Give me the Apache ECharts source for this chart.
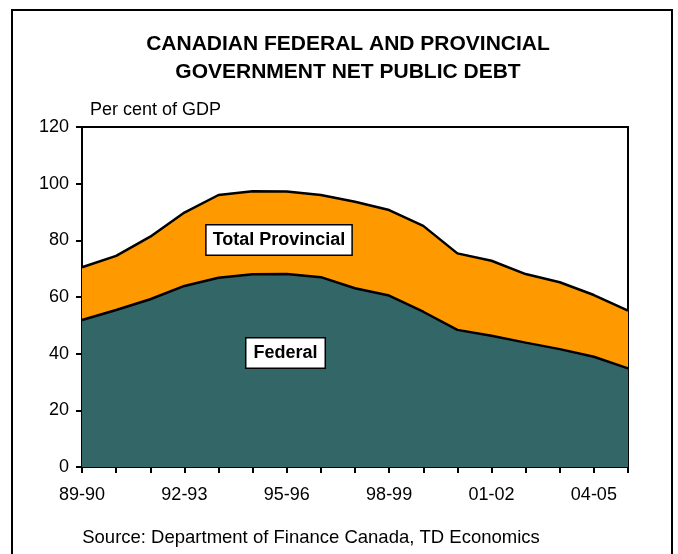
<!DOCTYPE html>
<html><head><meta charset="utf-8">
<script src="https://cdn.jsdelivr.net/npm/echarts@6/dist/echarts.min.js"></script>
<style>html,body{margin:0;padding:0;background:#fff}#c{width:678px;height:554px}</style>
</head><body><div id="c"></div>
<script>
const categories = ['89-90','90-91','91-92','92-93','93-94','94-95','95-96','96-97','97-98','98-99','99-00','00-01','01-02','02-03','03-04','04-05','05-06'];
const federal = [51.9,55.4,59.2,63.9,66.8,68.0,68.1,67.0,63.1,60.5,54.8,48.4,46.3,43.9,41.6,38.9,34.8];
const totalDebt = [70.5,74.5,81.3,89.8,96.0,97.3,97.2,96.0,93.6,90.7,85.1,75.4,72.8,68.1,65.2,60.7,55.2];
const provincial = totalDebt.map((t,i)=>+(t-federal[i]).toFixed(1));
const yTicks = [0,20,40,60,80,100,120];

const font = 'Liberation Sans, Arial, sans-serif';
const chart = echarts.init(document.getElementById('c'));
chart.setOption({
  animation:false,
  backgroundColor:'#fff',
  title:{
    text:'CANADIAN FEDERAL AND PROVINCIAL\nGOVERNMENT NET PUBLIC DEBT',
    left:343, top:25, textAlign:'center',
    textStyle:{fontFamily:font,fontSize:21,fontWeight:'bold',color:'#000',lineHeight:28}
  },
  grid:{left:82,top:127,right:50,bottom:87,show:true,borderColor:'#000',borderWidth:2,backgroundColor:'transparent'},
  xAxis:{
    type:'category', data:categories, boundaryGap:false,
    axisLine:{lineStyle:{color:'#000',width:2}},
    axisTick:{interval:0,length:6,lineStyle:{color:'#000',width:2}},
    axisLabel:{interval:2,color:'#000',fontFamily:font,fontSize:18,margin:19},
    splitLine:{show:false}
  },
  yAxis:{
    type:'value', min:yTicks[0], max:yTicks[yTicks.length-1], interval:20,
    axisLine:{show:true,lineStyle:{color:'#000',width:2}},
    axisTick:{show:true,length:6,lineStyle:{color:'#000',width:2}},
    axisLabel:{color:'#000',fontFamily:font,fontSize:18,margin:13},
    splitLine:{show:false}
  },
  series:[
    {name:'Federal',type:'line',stack:'t',data:federal,symbol:'none',
     lineStyle:{color:'#000',width:2.5},areaStyle:{color:'#336666',opacity:1},z:3},
    {name:'Total Provincial',type:'line',stack:'t',data:provincial,symbol:'none',
     lineStyle:{color:'#000',width:2.5},areaStyle:{color:'#FF9900',opacity:1},z:2}
  ],
  graphic:[
    {type:'rect',shape:{x:12,y:10,width:660,height:560},style:{fill:'none',stroke:'#000',lineWidth:2},z:-1},
    {type:'text',x:90,y:110,style:{text:'Per cent of GDP',font:'18px '+font,fill:'#000',align:'left',verticalAlign:'middle'}},
    {type:'text',x:279,y:240,z:10,style:{text:'Total Provincial',font:'bold 18px '+font,fill:'#000',
      align:'center',verticalAlign:'middle',backgroundColor:'#fff',borderColor:'#000',borderWidth:1.5,padding:[6,6,5,6]}},
    {type:'text',x:285.5,y:353,z:10,style:{text:'Federal',font:'bold 18px '+font,fill:'#000',
      align:'center',verticalAlign:'middle',backgroundColor:'#fff',borderColor:'#000',borderWidth:1.5,padding:[6,7,5,7]}},
    {type:'text',x:311,y:538,style:{text:'Source: Department of Finance Canada, TD Economics',font:'18.5px '+font,fill:'#000',
      align:'center',verticalAlign:'middle'}}
  ]
});
</script></body></html>
